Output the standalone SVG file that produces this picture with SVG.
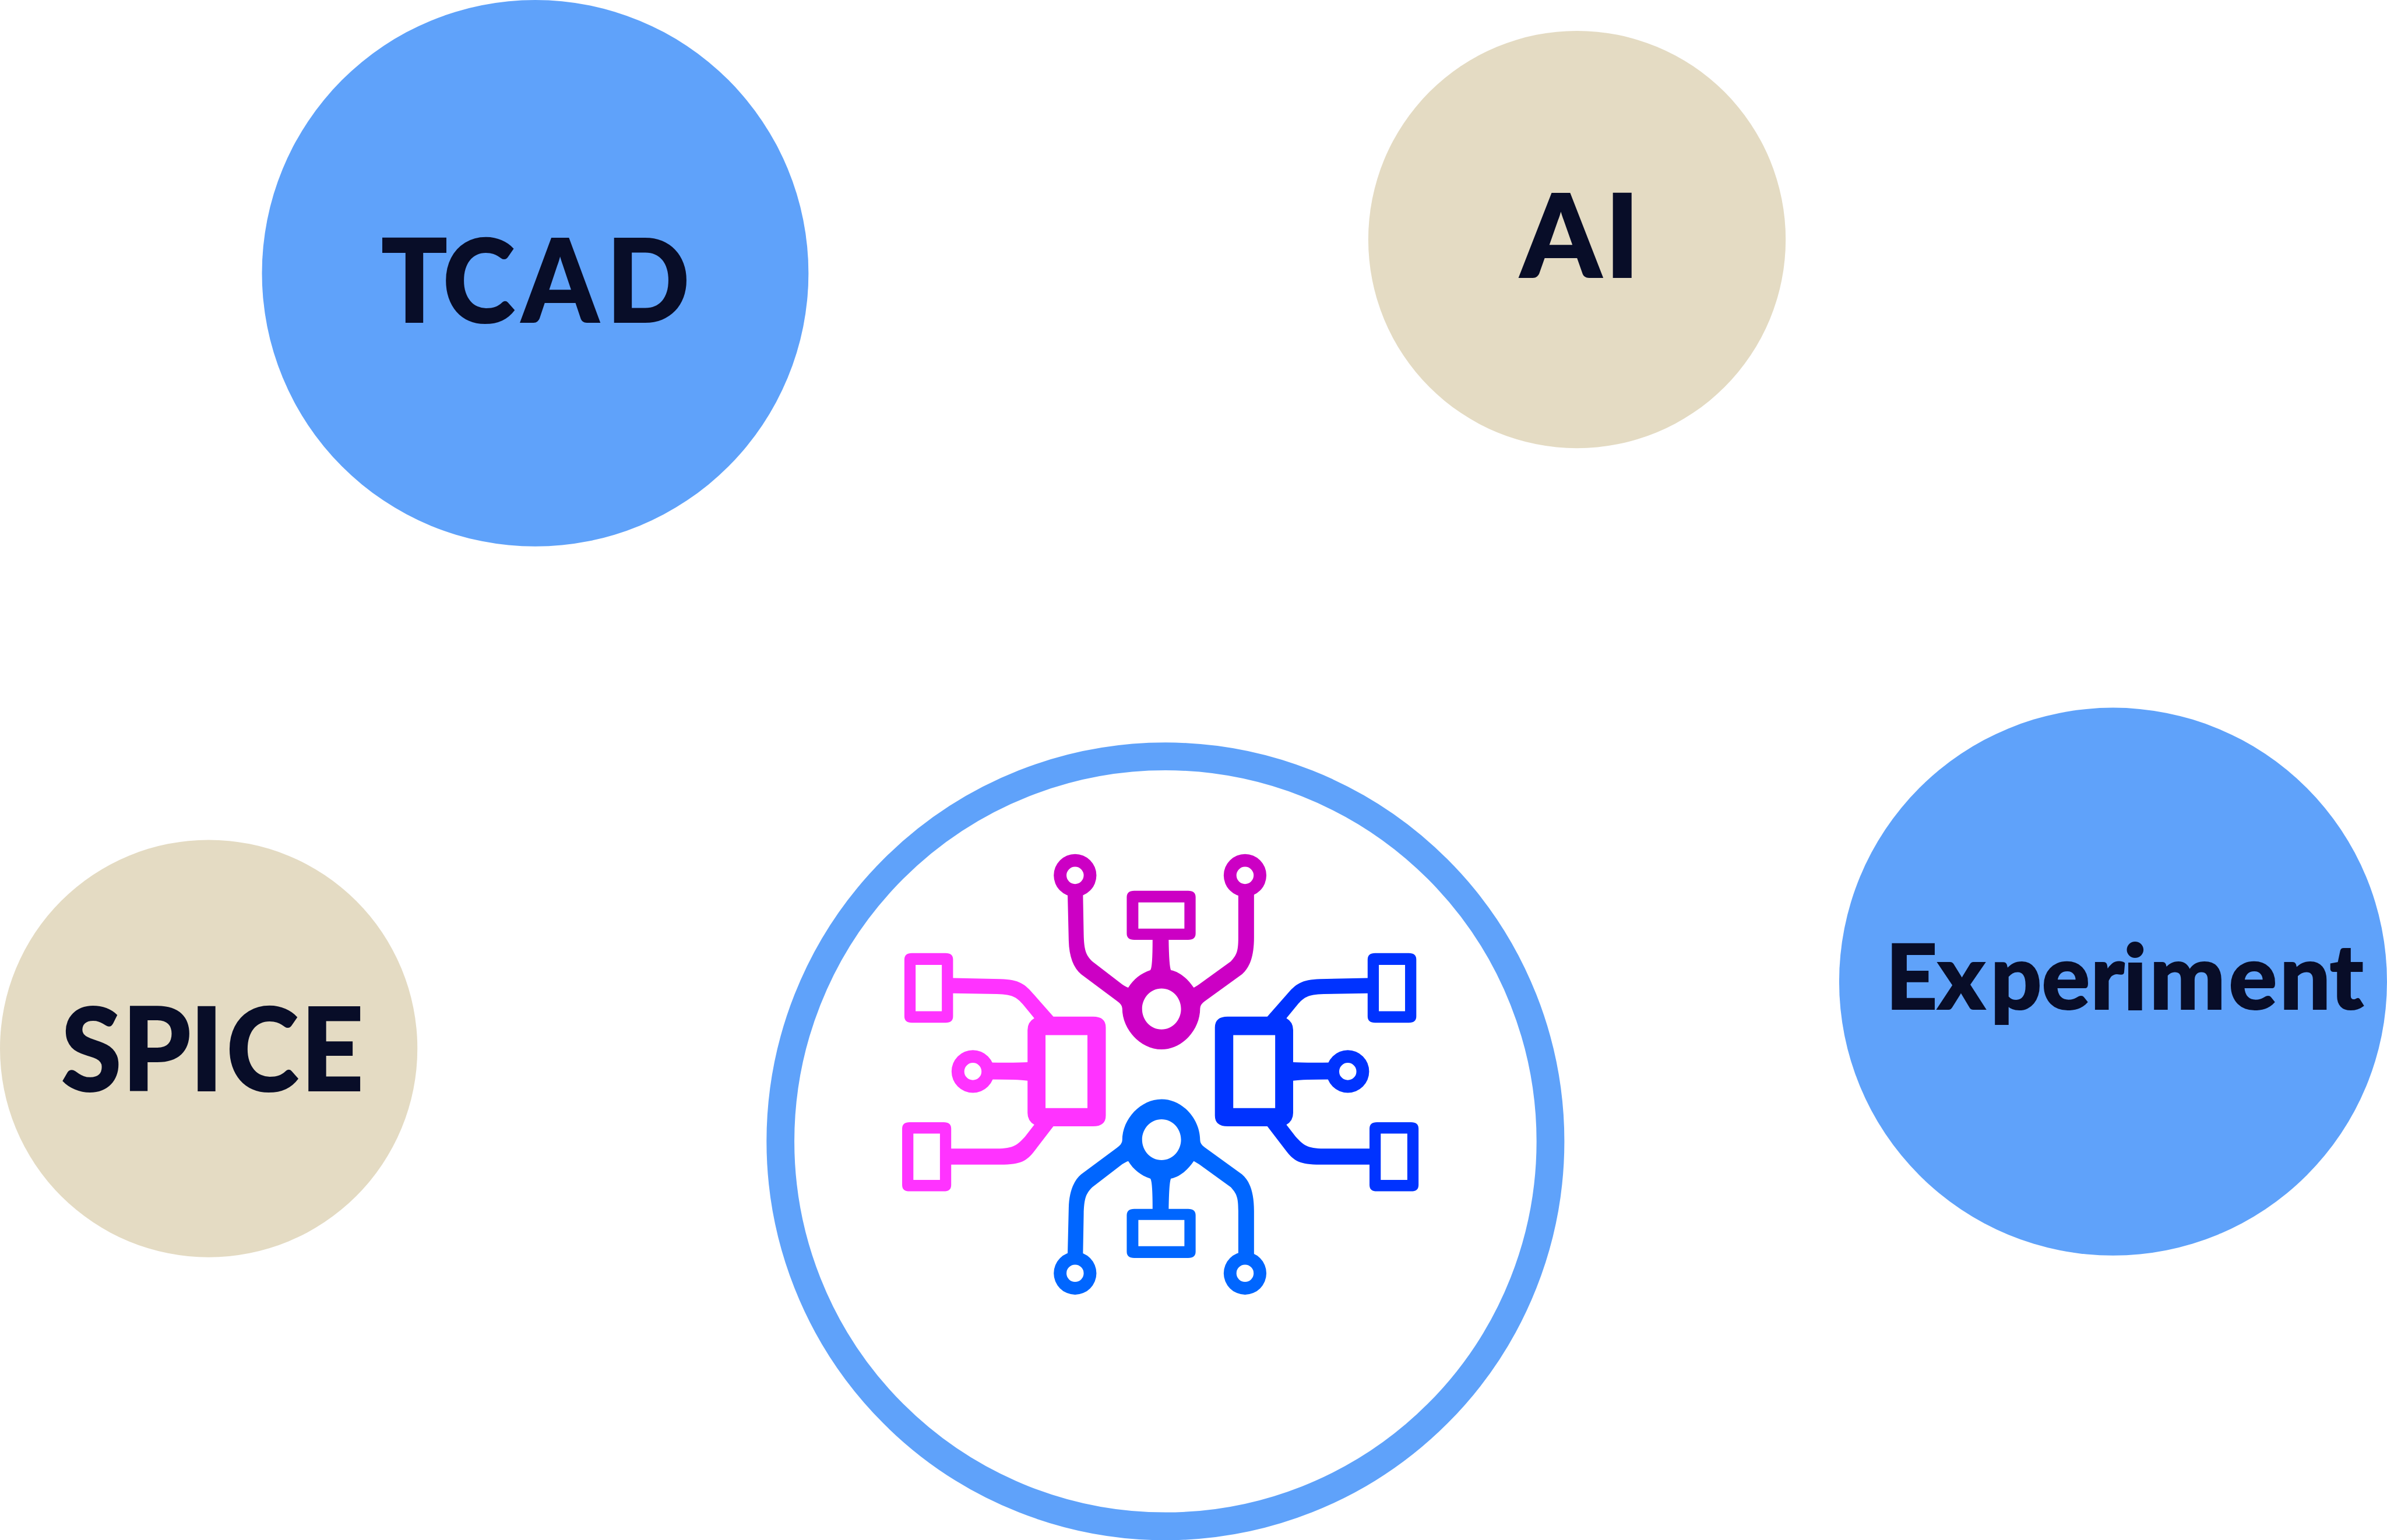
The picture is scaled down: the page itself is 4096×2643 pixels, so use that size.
<svg xmlns="http://www.w3.org/2000/svg" width="4096" height="2643" viewBox="0 0 4096 2643">
<style>
.blue{fill:#5FA2FA}.sand{fill:#E4DBC3}
.lbl{fill:#080D28;stroke:#080D28;stroke-width:3px;font-family:Lato,"Liberation Sans",sans-serif;font-weight:900}
.big{font-size:265px}.mid{font-size:207px}
</style>
<defs>
<g id="branchV" fill-rule="evenodd">
<path d="M529,212 L532,360 C533,410 545,445 565,465 L660,548 Q675,560 675,572 C675,640 725,701 780,701 C835,701 883,640 883,572 Q883,560 895,550 L995,465 C1015,445 1027,410 1027,350 L1027,212 L985,212 L985,350 C985,395 980,405 965,425 L880,497 Q870,505 866,507 C850,480 830,458 805,452 Q800,440 799,357 L851,357 Q871,357 871,337 L871,223 Q871,203 851,203 L707,203 Q687,203 687,223 L687,337 Q687,357 707,357 L756,357 Q756,445 750,452 C725,462 705,480 691,507 Q685,505 675,497 L595,425 C578,405 573,390 572,340 L570,212 Z M718,240 H841 V322 H718 Z M780,510 C751,510 728,539 728,574 C728,609 751,638 780,638 C809,638 832,609 832,574 C832,539 809,510 780,510 Z"/>
<path d="M492,155 a57,67 0 1 0 114,0 a57,67 0 1 0 -114,0 Z M526,155 a23,27 0 1 0 46,0 a23,27 0 1 0 -46,0 Z M946,155 a57,67 0 1 0 114,0 a57,67 0 1 0 -114,0 Z M980,155 a23,27 0 1 0 46,0 a23,27 0 1 0 -46,0 Z"/>
</g>
<g id="branchH" fill-rule="evenodd">
<path d="M491,598 L597,598 Q631,598 631,632 L631,908 Q631,942 597,942 L491,942 L440,1020 C420,1050 405,1062 350,1062 L218,1062 L218,1126 Q218,1146 198,1146 L107,1146 Q87,1146 87,1126 L87,949 Q87,929 107,929 L198,929 Q218,929 218,949 L218,1012 L340,1012 C385,1012 395,1000 415,975 L440,937 Q422,925 422,900 L422,799 Q395,795 320,795 L320,742 Q395,743 422,741 L422,640 Q422,615 440,603 L410,560 C395,540 385,528 340,527 L223,525 L223,597 Q223,617 203,617 L113,617 Q93,617 93,597 L93,419 Q93,399 113,399 L203,399 Q223,399 223,419 L223,477 L350,480 C400,482 415,495 440,530 Z M470,656 H582 V885 H470 Z M123,436 H193 V581 H123 Z M117,965 H188 V1110 H117 Z"/>
<path d="M219,770 a57,67 0 1 0 114,0 a57,67 0 1 0 -114,0 Z M253,770 a23,27 0 1 0 46,0 a23,27 0 1 0 -46,0 Z"/>
</g>
</defs>
<g transform="scale(.74608)">
<g id="node-tcad"><circle class="blue" cx="1231" cy="628.5" r="628.5"/><text class="lbl big" transform="scale(.95,1)" x="923 1072 1263 1468" y="741">TCAD</text></g>
<g id="node-ai"><circle class="sand" cx="3627" cy="551" r="480"/><text class="lbl big" x="3497 3691" y="638.5">AI</text></g>
<g id="node-spice"><circle class="sand" cx="480" cy="2412" r="480"/><text class="lbl big" transform="scale(.95,1)" x="148 296 460 548 728" y="2509">SPICE</text></g>
<g id="node-experiment"><circle class="blue" cx="4860" cy="2258" r="630"/><text class="lbl mid" x="4337 4456 4578 4696 4808 4884 4944 5126 5243 5358" y="2321">Experiment</text></g>
<g id="node-network">
<circle cx="2680.5" cy="2625.5" r="885.5" fill="#fff" stroke="#5FA2FA" stroke-width="64"/>
<g transform="translate(2000,1900) scale(.86097,.7334)">
<use href="#branchV" fill="#CC00C4"/>
<use href="#branchV" fill="#0066FF" transform="translate(0,1558) scale(1,-1)"/>
<use href="#branchH" fill="#FF33FF"/>
<use href="#branchH" fill="#0033FF" transform="translate(1553.5,0) scale(-1,1)"/>
</g>
</g>
</g>
</svg>
